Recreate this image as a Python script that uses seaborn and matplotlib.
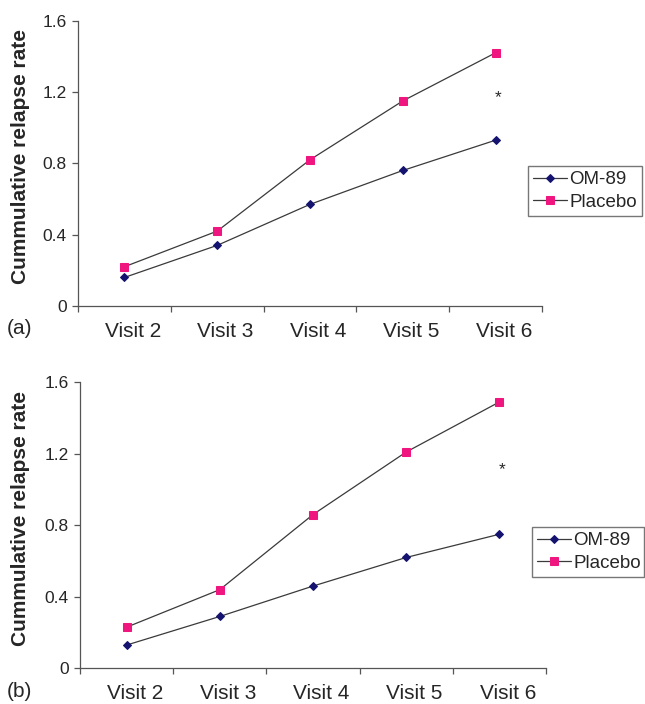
import numpy as np
import pandas as pd
import matplotlib
matplotlib.use('Agg')
import matplotlib.pyplot as plt
import seaborn as sb

visits = ['Visit 2', 'Visit 3', 'Visit 4', 'Visit 5', 'Visit 6']

# panel (a)
om89_a = [0.16, 0.34, 0.57, 0.76, 0.93]
placebo_a = [0.22, 0.42, 0.82, 1.15, 1.42]
star_a = 1.17

# panel (b)
om89_b = [0.13, 0.29, 0.46, 0.62, 0.75]
placebo_b = [0.23, 0.44, 0.86, 1.21, 1.49]
star_b = 1.11

yticks = [0, 0.4, 0.8, 1.2, 1.6]
ytick_labels = ['0', '0.4', '0.8', '1.2', '1.6']

sb.set_style('white')
plt.rcParams['font.family'] = ['Liberation Sans', 'DejaVu Sans']

fig = plt.figure(figsize=(6.45, 7.04), dpi=100)
W, H = 645, 704


def panel(rect, om, pl, star, tag, leg_box):
    l, t, r, b = rect
    ax = fig.add_axes([l / W, 1 - b / H, (r - l) / W, (b - t) / H])
    df = pd.DataFrame({'visit': visits, 'OM-89': om, 'Placebo': pl})
    sb.lineplot(data=df, x='visit', y='OM-89', ax=ax, color='#3a3a3a', lw=0.9,
                marker='D', markersize=3.6, markerfacecolor='#141470',
                markeredgecolor='#141470', label='OM-89')
    sb.lineplot(data=df, x='visit', y='Placebo', ax=ax, color='#3a3a3a', lw=0.9,
                marker='s', markersize=5.5, markerfacecolor='#f0167f',
                markeredgecolor='#f0167f', label='Placebo')
    ax.text(4.03, star, '*', ha='center', va='center', fontsize=12.5)
    ax.set_xlim(-0.5, 4.5)
    ax.set_ylim(0, 1.6)
    ax.set_yticks(yticks)
    ax.set_yticklabels(ytick_labels, fontsize=12.5)
    # labels sit a little right of the category centres in the original
    ax.set_xticks(np.arange(len(visits)) + 0.09)
    ax.set_xticklabels(visits, fontsize=15)
    ax.set_xticks(np.arange(-0.5, 5, 1), minor=True)
    ax.tick_params(axis='x', which='major', length=0, pad=11.5)
    ax.tick_params(axis='x', which='minor', length=4.5, width=0.9, direction='out',
                   bottom=True, color='#555555')
    ax.tick_params(axis='y', length=4.5, width=0.9, direction='out', left=True,
                   pad=3.5, color='#555555')
    ax.set_xlabel('')
    ax.set_ylabel('')
    for s in ['top', 'right']:
        ax.spines[s].set_visible(False)
    for s in ['left', 'bottom']:
        ax.spines[s].set_color('#555555')
        ax.spines[s].set_linewidth(0.9)
    mid = (t + b) / 2 - 7
    fig.text(21 / W, 1 - mid / H, 'Cummulative relapse rate', rotation=90,
             ha='center', va='center', fontsize=15, fontweight='bold')
    fig.text(7 / W, 1 - (b + 23) / H, tag, fontsize=15, va='center', ha='left')
    lx0, ly0, lx1, ly1 = leg_box
    ax.legend(loc='center', bbox_to_anchor=(lx0 / W, 1 - ly1 / H, (lx1 - lx0) / W, (ly1 - ly0) / H),
              bbox_transform=fig.transFigure, fontsize=13.5, frameon=True,
              fancybox=False, edgecolor='#555555', handlelength=1.85,
              handletextpad=0.12, borderpad=0.25, labelspacing=0.3,
              borderaxespad=0, mode='expand')
    return ax


panel((78, 20.7, 542, 306), om89_a, placebo_a, star_a, '(a)', (528, 166, 642, 216))
panel((80, 382.3, 546, 668.3), om89_b, placebo_b, star_b, '(b)', (532, 527, 644, 577))

fig.savefig('out.png', dpi=100)
